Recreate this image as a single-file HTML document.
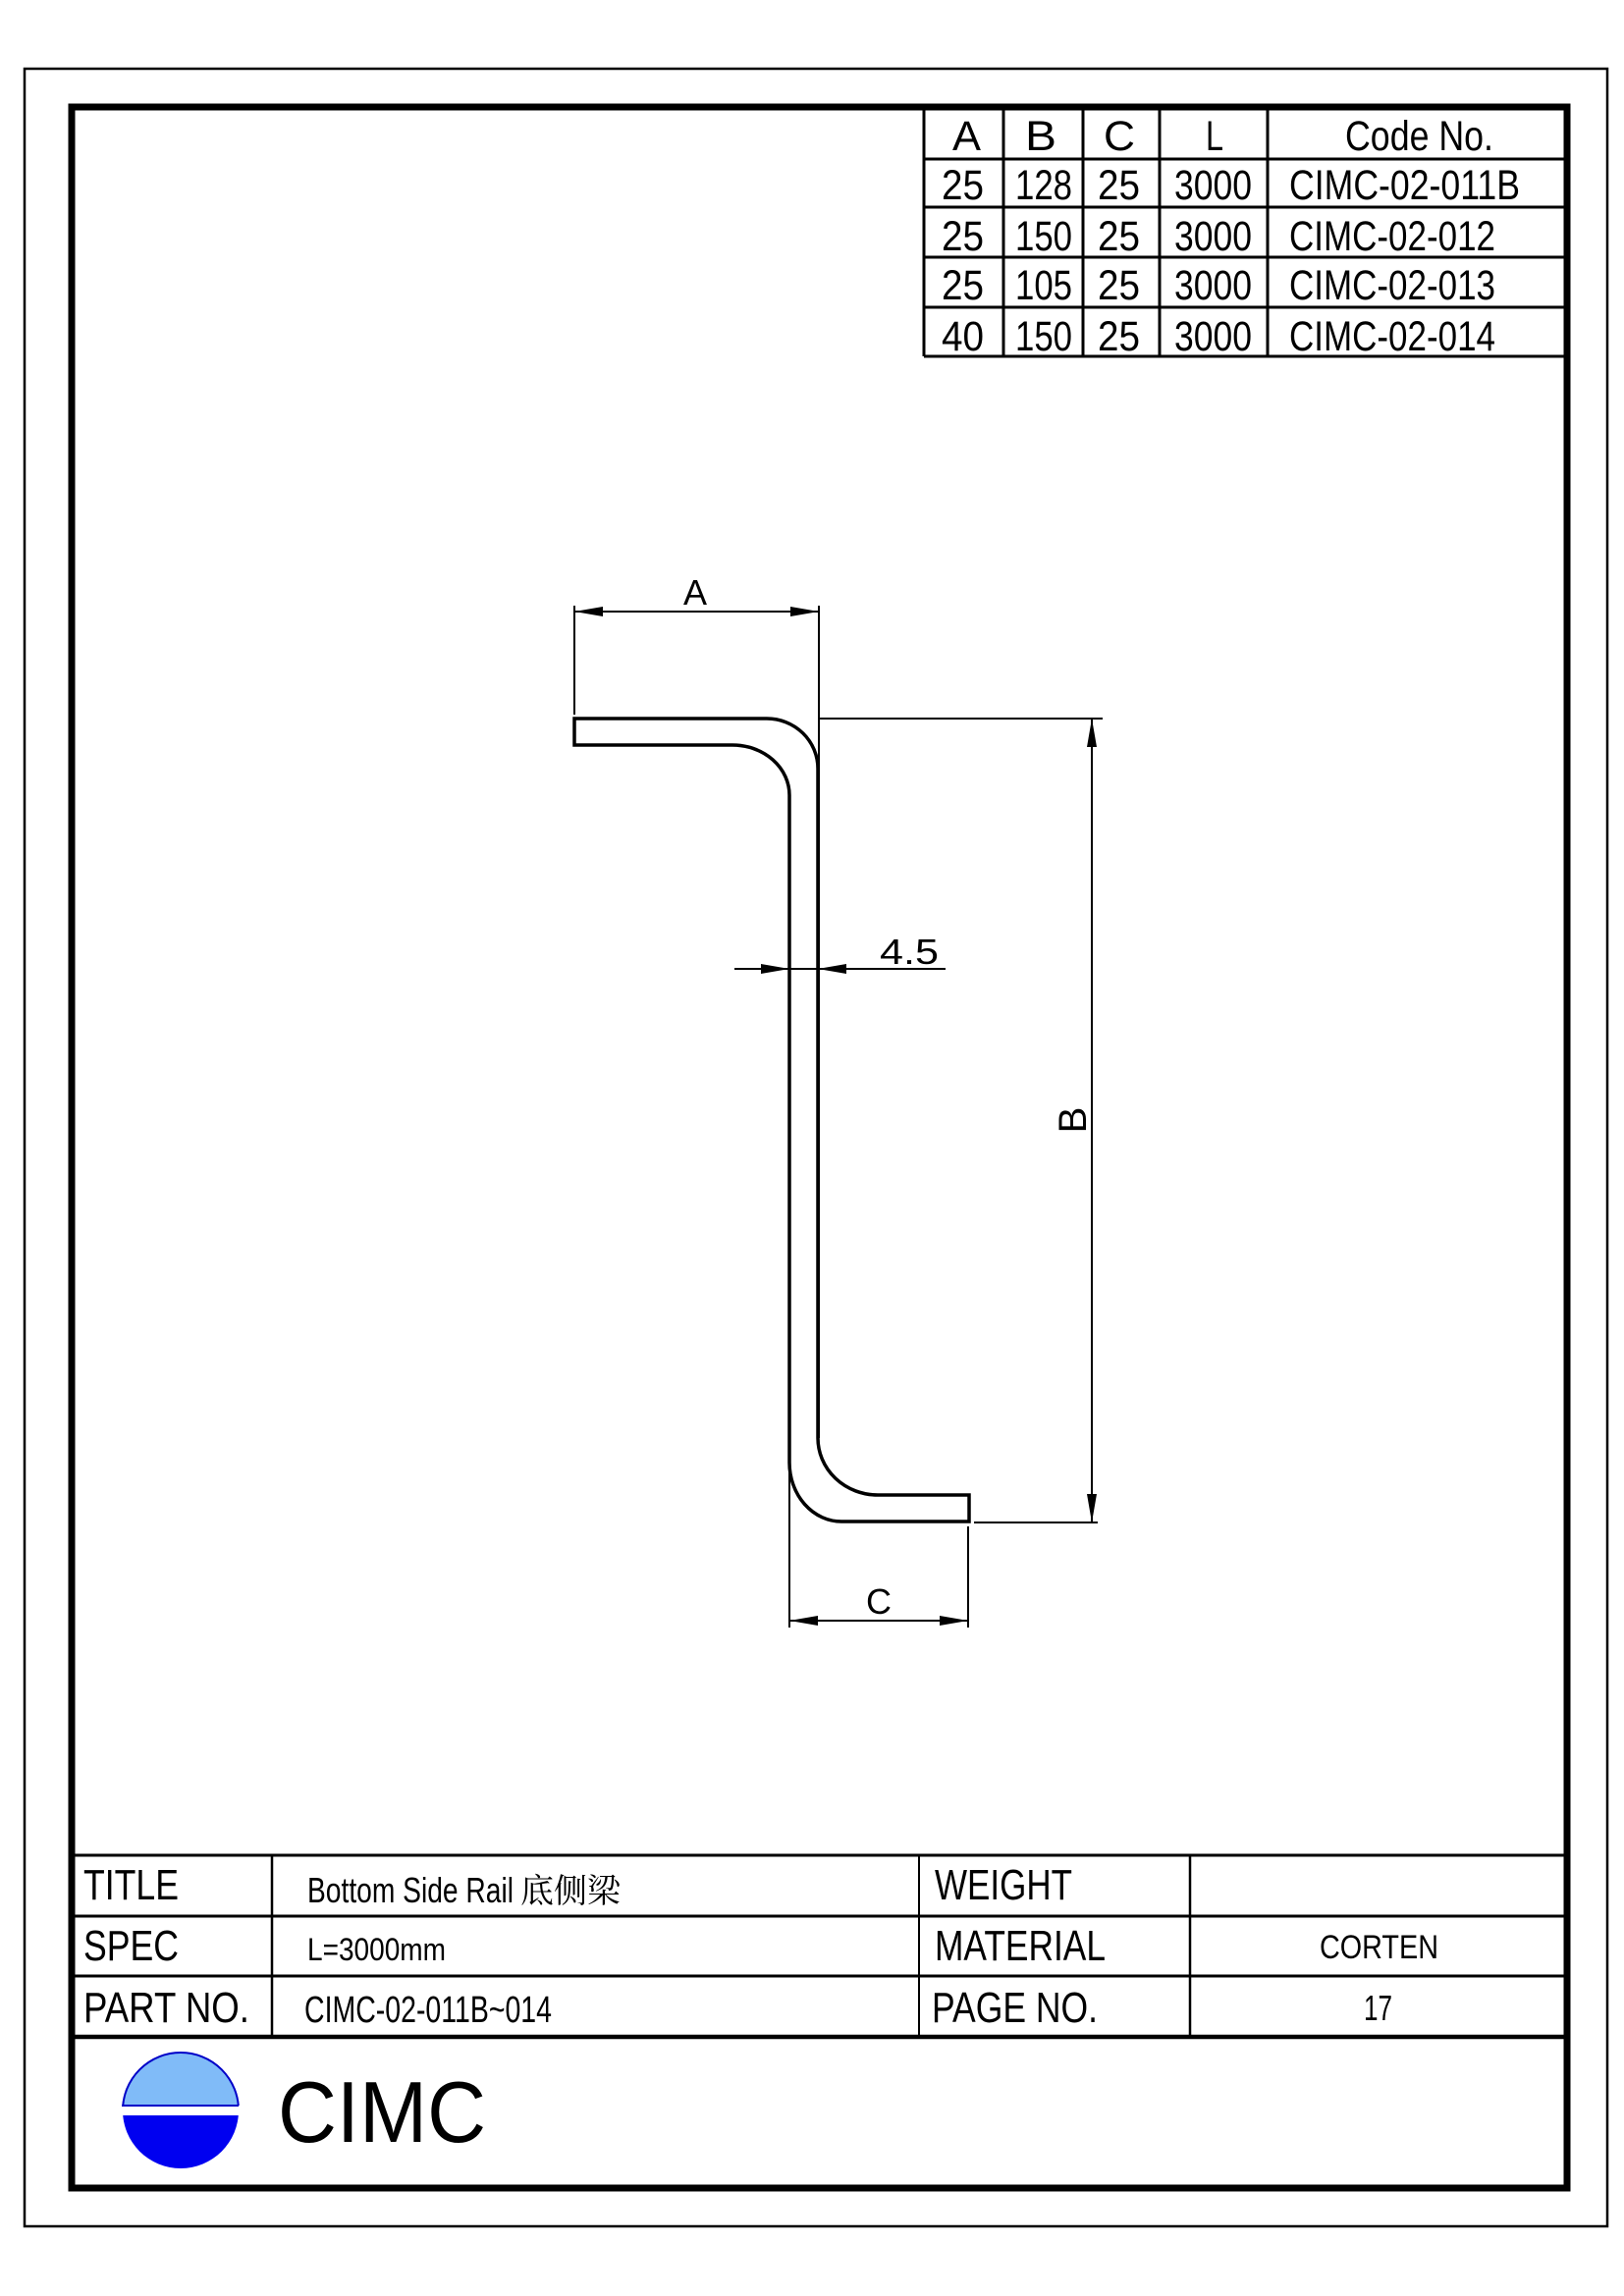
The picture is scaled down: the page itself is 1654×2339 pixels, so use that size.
<!DOCTYPE html>
<html><head><meta charset="utf-8"><style>
html,body{margin:0;padding:0;background:#fff}
svg{display:block}
text{font-family:"Liberation Sans","Noto Sans CJK SC",sans-serif;fill:#000}
</style></head><body>
<svg width="1654" height="2339" viewBox="0 0 1654 2339" xmlns="http://www.w3.org/2000/svg">
<rect x="0" y="0" width="1654" height="2339" fill="#fff"/>
<!-- outer thin border -->
<rect x="25" y="70" width="1612" height="2198" fill="none" stroke="#000" stroke-width="2.5"/>
<!-- inner thick frame -->
<rect x="73" y="109" width="1523" height="2120" fill="none" stroke="#000" stroke-width="7"/>

<!-- top table -->
<g stroke="#000" stroke-width="3" fill="none">
<line x1="941" y1="109" x2="941" y2="363"/>
<line x1="1022" y1="109" x2="1022" y2="363"/>
<line x1="1103" y1="109" x2="1103" y2="363"/>
<line x1="1181" y1="109" x2="1181" y2="363"/>
<line x1="1291" y1="109" x2="1291" y2="363"/>
<line x1="941" y1="162" x2="1596" y2="162"/>
<line x1="941" y1="211" x2="1596" y2="211"/>
<line x1="941" y1="262" x2="1596" y2="262"/>
<line x1="941" y1="313" x2="1596" y2="313"/>
<line x1="941" y1="363" x2="1596" y2="363"/>
</g>
<g font-size="43">
<text x="970" y="153" textLength="29" lengthAdjust="spacingAndGlyphs">A</text>
<text x="1044" y="153" textLength="32" lengthAdjust="spacingAndGlyphs">B</text>
<text x="1124" y="153" textLength="32" lengthAdjust="spacingAndGlyphs">C</text>
<text x="1228" y="153" textLength="18" lengthAdjust="spacingAndGlyphs">L</text>
<text x="1370" y="153" textLength="151" lengthAdjust="spacingAndGlyphs">Code No.</text>

<text x="959" y="203" textLength="43" lengthAdjust="spacingAndGlyphs">25</text>
<text x="1034" y="203" textLength="58" lengthAdjust="spacingAndGlyphs">128</text>
<text x="1118" y="203" textLength="43" lengthAdjust="spacingAndGlyphs">25</text>
<text x="1196" y="203" textLength="79" lengthAdjust="spacingAndGlyphs">3000</text>
<text x="1313" y="203" textLength="235" lengthAdjust="spacingAndGlyphs">CIMC-02-011B</text>

<text x="959" y="255" textLength="43" lengthAdjust="spacingAndGlyphs">25</text>
<text x="1034" y="255" textLength="58" lengthAdjust="spacingAndGlyphs">150</text>
<text x="1118" y="255" textLength="43" lengthAdjust="spacingAndGlyphs">25</text>
<text x="1196" y="255" textLength="79" lengthAdjust="spacingAndGlyphs">3000</text>
<text x="1313" y="255" textLength="210" lengthAdjust="spacingAndGlyphs">CIMC-02-012</text>

<text x="959" y="305" textLength="43" lengthAdjust="spacingAndGlyphs">25</text>
<text x="1034" y="305" textLength="58" lengthAdjust="spacingAndGlyphs">105</text>
<text x="1118" y="305" textLength="43" lengthAdjust="spacingAndGlyphs">25</text>
<text x="1196" y="305" textLength="79" lengthAdjust="spacingAndGlyphs">3000</text>
<text x="1313" y="305" textLength="210" lengthAdjust="spacingAndGlyphs">CIMC-02-013</text>

<text x="959" y="357" textLength="43" lengthAdjust="spacingAndGlyphs">40</text>
<text x="1034" y="357" textLength="58" lengthAdjust="spacingAndGlyphs">150</text>
<text x="1118" y="357" textLength="43" lengthAdjust="spacingAndGlyphs">25</text>
<text x="1196" y="357" textLength="79" lengthAdjust="spacingAndGlyphs">3000</text>
<text x="1313" y="357" textLength="210" lengthAdjust="spacingAndGlyphs">CIMC-02-014</text>
</g>

<!-- profile -->
<g stroke="#000" stroke-width="3.5" fill="none" stroke-linejoin="miter">
<path d="M585,732 L781,732 A52,51 0 0 1 833,783 L833,1465 A61,58 0 0 0 894,1523 L987,1523 L987,1550 L857,1550 A53,60 0 0 1 804,1490 L804,810 A58,51 0 0 0 746,759 L585,759 Z"/>
</g>
<!-- dimension lines -->
<g stroke="#000" stroke-width="2" fill="none">
<!-- A -->
<line x1="585" y1="617" x2="585" y2="728"/>
<line x1="834" y1="617" x2="834" y2="1465"/>
<line x1="585" y1="623" x2="834" y2="623"/>
<!-- B -->
<line x1="834" y1="732" x2="1123" y2="732"/>
<line x1="992" y1="1551" x2="1118" y2="1551"/>
<line x1="1112" y1="732" x2="1112" y2="1551"/>
<!-- 4.5 -->
<line x1="748" y1="987" x2="963" y2="987"/>
<!-- C -->
<line x1="804" y1="1490" x2="804" y2="1658"/>
<line x1="986" y1="1555" x2="986" y2="1658"/>
<line x1="804" y1="1651" x2="986" y2="1651"/>
</g>
<g fill="#000">
<polygon points="585,623 614,618 614,628"/>
<polygon points="834,623 805,618 805,628"/>
<polygon points="1112,732 1107,761 1117,761"/>
<polygon points="1112,1551 1107,1522 1117,1522"/>
<polygon points="804,987 775,982 775,992"/>
<polygon points="833,987 862,982 862,992"/>
<polygon points="804,1651 833,1646 833,1656"/>
<polygon points="986,1651 957,1646 957,1656"/>
</g>
<g font-size="36">
<text x="708" y="616" text-anchor="middle">A</text>
<text x="926" y="982" text-anchor="middle" textLength="60" lengthAdjust="spacingAndGlyphs">4.5</text>
<text x="895" y="1644" text-anchor="middle">C</text>
<text transform="translate(1106,1141) rotate(-90)" x="0" y="0" text-anchor="middle" font-size="40">B</text>
</g>

<!-- title block -->
<g stroke="#000" fill="none">
<line x1="73" y1="1890" x2="1596" y2="1890" stroke-width="3"/>
<line x1="73" y1="1952" x2="1596" y2="1952" stroke-width="3"/>
<line x1="73" y1="2013" x2="1596" y2="2013" stroke-width="3"/>
<line x1="73" y1="2075" x2="1596" y2="2075" stroke-width="4.5"/>
<line x1="277" y1="1890" x2="277" y2="2075" stroke-width="2.5"/>
<line x1="936" y1="1890" x2="936" y2="2075" stroke-width="2"/>
<line x1="1212" y1="1890" x2="1212" y2="2075" stroke-width="2.5"/>
</g>
<g font-size="44">
<text x="85" y="1935" textLength="97" lengthAdjust="spacingAndGlyphs">TITLE</text>
<text x="85" y="1997" textLength="97" lengthAdjust="spacingAndGlyphs">SPEC</text>
<text x="85" y="2060" textLength="169" lengthAdjust="spacingAndGlyphs">PART NO.</text>
<text x="952" y="1935" textLength="140" lengthAdjust="spacingAndGlyphs">WEIGHT</text>
<text x="952" y="1997" textLength="174" lengthAdjust="spacingAndGlyphs">MATERIAL</text>
<text x="949" y="2060" textLength="169" lengthAdjust="spacingAndGlyphs">PAGE NO.</text>
</g>
<text x="313" y="1938" font-size="36" textLength="210" lengthAdjust="spacingAndGlyphs">Bottom Side Rail</text>
<text x="530" y="1938" font-size="34" style="font-family:'Noto Serif CJK SC','Noto Sans CJK SC',serif">底侧梁</text>
<text x="313" y="1997" font-size="32" textLength="141" lengthAdjust="spacingAndGlyphs">L=3000mm</text>
<text x="310" y="2060" font-size="38" textLength="252" lengthAdjust="spacingAndGlyphs">CIMC-02-011B~014</text>
<text x="1344" y="1995" font-size="34" textLength="121" lengthAdjust="spacingAndGlyphs">CORTEN</text>
<text x="1389" y="2058" font-size="36" textLength="29" lengthAdjust="spacingAndGlyphs">17</text>

<!-- logo -->
<defs>
<clipPath id="ct"><rect x="120" y="2080" width="130" height="65"/></clipPath>
<clipPath id="cb"><rect x="120" y="2155" width="130" height="70"/></clipPath>
</defs>
<ellipse cx="184" cy="2150" rx="59" ry="59" fill="#80bbf8" stroke="#0000c8" stroke-width="2" clip-path="url(#ct)"/>
<line x1="124" y1="2145" x2="243" y2="2145" stroke="#0000c8" stroke-width="2"/>
<ellipse cx="184" cy="2150" rx="59" ry="59" fill="#0000f0" clip-path="url(#cb)"/>
<text x="283" y="2182" font-size="88" textLength="212" lengthAdjust="spacingAndGlyphs">CIMC</text>
</svg>
</body></html>
